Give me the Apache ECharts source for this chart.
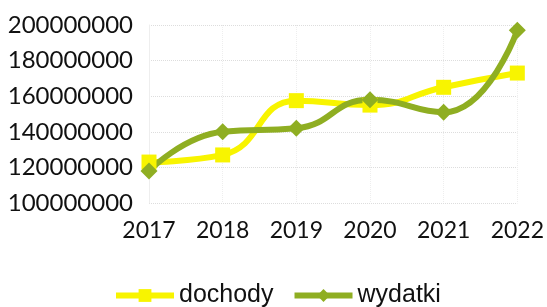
<!DOCTYPE html>
<html>
<head>
<meta charset="utf-8">
<script src="https://cdn.jsdelivr.net/npm/echarts@6/dist/echarts.min.js"></script>
<style>
  html, body { margin: 0; padding: 0; background: #fff; }
  #chart { width: 547px; height: 307px; }
</style>
</head>
<body>
<div id="chart"></div>
<script>
    var years = ['2017', '2018', '2019', '2020', '2021', '2022'];
    var dochody = [123000000, 127000000, 157500000, 155000000, 165000000, 173000000];
    var wydatki = [118000000, 140000000, 142000000, 158000000, 151000000, 197000000];

    var chart = echarts.init(document.getElementById('chart'));
    var option = {
        animation: false,
        backgroundColor: '#fff',
        grid: {
            left: 149,
            right: 28,
            top: 25,
            bottom: 104
        },
        legend: {
            top: 278,
            left: 108,
            itemWidth: 58,
            itemHeight: 16,
            itemGap: 18,
            lineStyle: { width: 6 },
            textStyle: {
                fontFamily: 'Liberation Sans',
                fontSize: 25,
                color: '#111'
            },
            data: ['dochody', 'wydatki']
        },
        xAxis: {
            type: 'category',
            boundaryGap: false,
            data: years,
            axisLine: { show: false },
            axisTick: { show: false },
            splitLine: {
                show: true,
                lineStyle: { color: '#eeeeee', type: 'dotted' }
            },
            axisLabel: {
                margin: 16,
                fontFamily: 'Lato',
                fontSize: 23,
                color: '#111'
            }
        },
        yAxis: {
            type: 'value',
            min: 100000000,
            max: 200000000,
            interval: 20000000,
            axisLine: { show: true, lineStyle: { color: '#eeeeee' } },
            splitLine: {
                lineStyle: { color: '#dddddd', type: 'dotted' }
            },
            axisLabel: {
                margin: 16,
                fontFamily: 'Lato',
                fontSize: 24,
                color: '#111',
                formatter: function (v) { return String(v); }
            }
        },
        series: [
            {
                name: 'dochody',
                type: 'line',
                smooth: true,
                data: dochody,
                symbol: 'rect',
                symbolSize: 15,
                itemStyle: { color: '#f8f400' },
                lineStyle: { width: 6, color: '#f8f400' }
            },
            {
                name: 'wydatki',
                type: 'line',
                smooth: true,
                data: wydatki,
                symbol: 'diamond',
                symbolSize: 17,
                itemStyle: { color: '#8fae22' },
                lineStyle: { width: 6, color: '#8fae22' }
            }
        ]
    };
    chart.setOption(option);
</script>
</body>
</html>
